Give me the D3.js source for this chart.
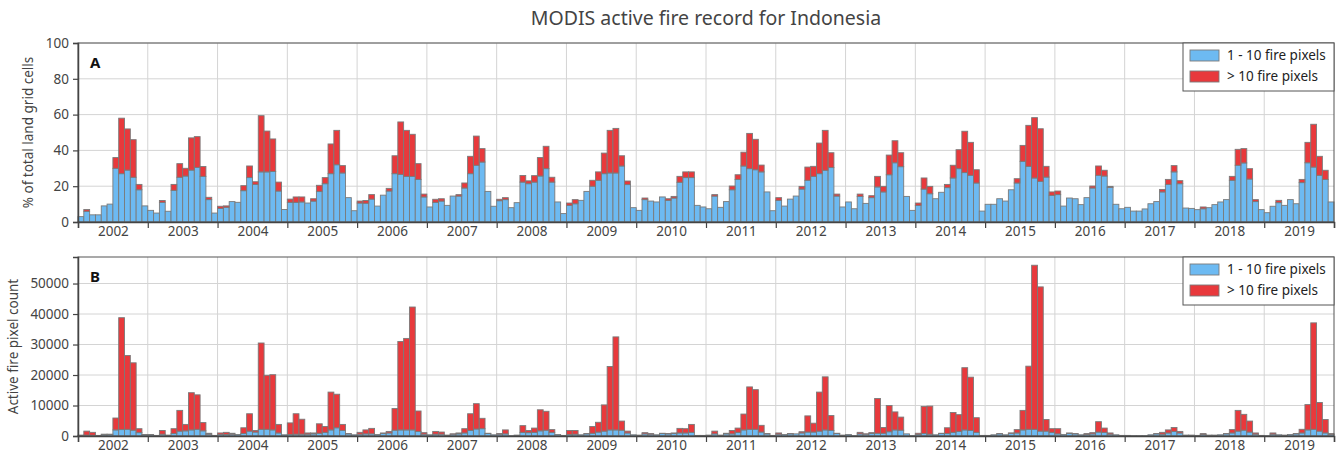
<!DOCTYPE html>
<html>
<head>
<meta charset="utf-8">
<script src="https://cdn.jsdelivr.net/npm/d3@7"></script>
<style>
  body { margin: 0; background: #fff; }
  svg { font-family: "Noto Sans", "Open Sans", sans-serif; }
</style>
</head>
<body>
<svg id="chart" width="1338" height="453"></svg>
<script>
// years shown on the x axis, one band of 12 months each
const years = d3.range(2002, 2020);
const seriesNames = ["1 - 10 fire pixels", "> 10 fire pixels"];

// panel A: % of land grid cells, 1-10 fire pixels and the total of both classes
const pctSmall = [
  3, 6, 4, 4, 9, 10, 30, 27, 29, 25, 18, 9,
  6.5, 5, 11, 6, 17.7, 25, 25.7, 29, 30.5, 25.5, 12.5, 5,
  7.6, 8.2, 11.4, 11, 17.5, 24.8, 21, 28, 28, 28.2, 17.3, 7,
  11, 11, 11.2, 10.6, 11.7, 17, 21.4, 27, 32, 27.4, 13.6, 6.3,
  10.6, 10.5, 12.8, 8.9, 15, 17.3, 27, 26.6, 25.5, 25.5, 23.8, 14,
  8.4, 11, 11.7, 9.3, 14.5, 14.5, 19, 27, 31.7, 33.5, 17.1, 8.8,
  11.9, 12.5, 8, 10.8, 22.3, 21.4, 22.3, 25.7, 29.8, 22.3, 11.2, 4.7,
  9.3, 10.2, 12.1, 17.1, 20, 23.3, 27, 27.4, 27.4, 31.3, 20.9, 8,
  6.5, 12.5, 11.7, 11.2, 14, 12.1, 13.4, 22.2, 24.8, 24.8, 9.3, 8.4,
  7.4, 14.5, 8.2, 11.4, 18, 23.8, 31.3, 29.8, 29.2, 28, 16.8, 6.3,
  12.1, 8.9, 12.8, 14.5, 18.4, 23.3, 25.5, 27, 28.9, 30.4, 14.5, 8.4,
  11.2, 7.4, 14.3, 10.4, 13.6, 19.6, 16.8, 26.4, 33.1, 30.9, 14.3, 6.5,
  9.3, 18.4, 15.8, 13, 16.6, 19.2, 24.6, 29.8, 27.6, 26.1, 21.8, 6.1,
  9.9, 9.9, 13, 11.7, 18, 21.8, 33.9, 31.1, 24.6, 22.7, 25.1, 14.9,
  15.3, 8.9, 13.4, 13, 9.7, 13.6, 19, 26.1, 25.7, 19.4, 9.9, 7.4,
  8.2, 6.1, 6.1, 7.3, 10.2, 11.4, 16.8, 21, 28, 21.4, 7.8, 7.6,
  6.9, 7.4, 8, 9.7, 11.2, 12.5, 23.3, 31.7, 33, 24, 11.4, 6.9,
  5.2, 8.8, 10.8, 9.3, 12.5, 10.2, 22, 33.1, 30.7, 26.1, 23.8, 11.2
];
const pctTotal = [
  3, 7, 4, 4, 9, 10, 36, 58, 52, 46, 21, 9,
  6.5, 5, 12, 6, 21, 32.6, 30, 47, 47.7, 31, 13.8, 5,
  8.8, 9, 11.4, 11, 20.3, 31.3, 22.5, 59.4, 50.8, 46.4, 22.3, 7,
  12.8, 14, 14, 10.6, 13, 20.5, 24.8, 43.6, 51.2, 31.5, 13.6, 6.3,
  11.7, 12, 15.3, 8.9, 15, 18.8, 37, 55.9, 51.2, 49, 32.6, 15.6,
  8.4, 12.7, 13, 9.3, 14.5, 15.3, 21.8, 36.7, 48, 41, 17.1, 8.8,
  12.7, 13.6, 8, 10.8, 26, 23, 25.9, 36, 42.3, 25, 11.2, 4.7,
  10.6, 12.5, 12.1, 17.1, 23.3, 28, 38.5, 51.2, 52.3, 37, 22.9, 8,
  6.5, 13.4, 11.7, 11.2, 14, 13, 14.3, 25.5, 28, 28, 9.3, 8.4,
  7.4, 15.3, 8.2, 11.4, 20.1, 26.4, 39, 49.5, 46.2, 31.8, 16.8, 6.3,
  13.6, 8.9, 12.8, 14.5, 19.9, 30.7, 31.1, 44.1, 51.2, 38.7, 15.6, 8.4,
  11.2, 7.4, 15.6, 10.4, 14.7, 25.5, 19.9, 37.4, 45.4, 38.7, 14.3, 6.5,
  10.6, 24.6, 19.9, 13, 16.6, 21, 31.7, 40.4, 50.7, 44.5, 29.2, 6.1,
  9.9, 9.9, 13, 11.7, 18, 24.2, 42.8, 54, 58.3, 52.1, 31.1, 16.8,
  17.3, 8.9, 13.4, 13, 9.7, 13.6, 20.1, 31.3, 28.9, 19.9, 9.9, 7.4,
  8.2, 6.1, 6.1, 7.3, 10.2, 11.4, 18.2, 23.8, 31.5, 23.1, 7.8, 7.6,
  6.9, 8.4, 8, 9.7, 11.2, 12.5, 25.5, 40.6, 41, 29.8, 12.5, 6.9,
  5.2, 8.8, 12.1, 9.3, 12.5, 10.2, 23.8, 44.5, 54.6, 36.7, 28.9, 11.2
];

// panel B: active fire pixel counts
const countSmall = [
  150, 300, 250, 150, 400, 450, 2000, 2100, 2200, 1900, 1100, 400,
  400, 200, 600, 300, 800, 1600, 1700, 2000, 2200, 1700, 600, 200,
  500, 500, 600, 500, 800, 1600, 1300, 2200, 2200, 2000, 1000, 400,
  500, 600, 600, 600, 700, 900, 1200, 2000, 2700, 1800, 700, 400,
  600, 700, 700, 500, 800, 1000, 1900, 2000, 2000, 2000, 1500, 600,
  400, 600, 600, 300, 600, 700, 1000, 1800, 2300, 2400, 800, 400,
  600, 700, 100, 300, 1200, 1100, 1200, 1700, 1900, 1200, 500, 200,
  500, 600, 400, 700, 900, 1300, 1600, 2000, 2000, 1900, 1000, 400,
  300, 700, 600, 400, 800, 700, 800, 1000, 1000, 1200, 200, 200,
  300, 700, 300, 700, 700, 1200, 2000, 2200, 2200, 1300, 700, 200,
  600, 500, 700, 700, 1000, 1300, 1300, 1600, 2000, 1800, 800, 300,
  500, 100, 700, 600, 800, 900, 900, 1400, 2000, 1900, 700, 100,
  500, 800, 600, 400, 800, 800, 1200, 1500, 2000, 1800, 1200, 200,
  200, 400, 700, 400, 900, 1000, 2000, 2200, 2200, 1600, 1600, 1200,
  700, 500, 800, 700, 400, 500, 700, 1300, 1200, 600, 400, 200,
  200, 100, 100, 100, 400, 700, 600, 1000, 1500, 1000, 300, 300,
  200, 500, 300, 300, 400, 700, 1000, 1600, 1900, 1300, 600, 200,
  100, 600, 400, 300, 500, 700, 1000, 2000, 2200, 1600, 1000, 500
];
const countTotal = [
  300, 1600, 1200, 200, 600, 600, 5900, 38800, 26400, 24000, 2400, 500,
  500, 200, 1800, 300, 2400, 8400, 3800, 14200, 13500, 4400, 900, 200,
  1000, 1200, 900, 500, 2700, 7300, 1800, 30500, 19900, 20100, 3800, 400,
  4300, 7300, 5500, 1000, 1000, 4000, 3100, 14400, 13700, 3800, 800, 400,
  1200, 2000, 2500, 500, 1000, 1500, 9000, 31000, 32000, 42300, 8200, 1100,
  400, 1500, 1300, 300, 700, 1000, 2400, 7300, 10600, 5800, 900, 400,
  800, 2000, 100, 300, 3400, 1800, 2600, 8600, 8100, 2100, 500, 200,
  1800, 1800, 400, 800, 3100, 4500, 10200, 22800, 32500, 4900, 1600, 400,
  300, 1100, 800, 400, 900, 800, 1000, 2500, 2400, 3800, 200, 200,
  300, 1600, 300, 900, 1800, 2600, 7200, 16100, 15200, 3500, 800, 200,
  1000, 500, 800, 700, 1400, 6600, 4200, 14400, 19400, 6700, 900, 300,
  500, 100, 1200, 700, 1100, 12300, 2800, 10000, 7900, 6200, 700, 100,
  900, 9700, 9800, 400, 900, 2700, 7700, 7000, 22400, 19300, 6000, 200,
  200, 400, 800, 400, 1000, 2100, 8400, 22900, 56000, 48900, 5400, 2400,
  2400, 500, 1000, 800, 400, 800, 1100, 4700, 2600, 1000, 400, 200,
  200, 100, 100, 100, 400, 800, 1200, 2000, 2800, 1500, 300, 300,
  200, 800, 300, 300, 400, 800, 2100, 8400, 7100, 4900, 1000, 200,
  100, 1000, 400, 300, 500, 800, 2200, 10300, 37100, 11000, 5400, 800
];

const yTicksA = [0, 20, 40, 60, 80, 100];
const yTicksB = [0, 10000, 20000, 30000, 40000, 50000];

const colors = ["#6dbaf2", "#e8393c"];
const textColor = "#444";

const svg = d3.select("#chart");
const left = 78, right = 1334;
const months = d3.range(years.length * 12);

const x = d3.scaleBand().domain(months).range([left, right]).padding(0);
const xYear = d3.scaleLinear().domain([years[0], years[years.length - 1] + 1]).range([left, right]);

svg.append("text")
  .attr("x", 706).attr("y", 25)
  .attr("text-anchor", "middle")
  .style("font-size", "19.5px")
  .style("fill", textColor)
  .text("MODIS active fire record for Indonesia");

function panel(top, bottom, small, total, yMax, yTicks, yTitle, titleX, letter) {
  const y = d3.scaleLinear().domain([0, yMax]).range([bottom, top]);
  const g = svg.append("g");

  // grid
  g.append("g").selectAll("line.v")
    .data(years.slice(1))
    .join("line")
    .attr("x1", d => xYear(d)).attr("x2", d => xYear(d))
    .attr("y1", top).attr("y2", bottom)
    .attr("stroke", "#d4d4d4").attr("stroke-width", 1);
  g.append("g").selectAll("line.h")
    .data(yTicks.slice(1))
    .join("line")
    .attr("x1", left).attr("x2", right)
    .attr("y1", d => y(d)).attr("y2", d => y(d))
    .attr("stroke", "#d4d4d4").attr("stroke-width", 1);

  // stacked bars
  const rows = months.map(i => ({ month: i, small: small[i], large: Math.max(0, total[i] - small[i]) }));
  const stacked = d3.stack().keys(["small", "large"])(rows);
  g.append("g").selectAll("g")
    .data(stacked)
    .join("g")
    .attr("fill", (d, i) => colors[i])
    .selectAll("rect")
    .data(d => d.filter(p => p[1] - p[0] > 0))
    .join("rect")
    .attr("x", d => x(d.data.month))
    .attr("width", x.bandwidth())
    .attr("y", d => y(d[1]))
    .attr("height", d => y(d[0]) - y(d[1]))
    .attr("stroke", "#7a7a7a")
    .attr("stroke-width", 0.9);

  // frame
  g.append("rect")
    .attr("x", left).attr("y", top)
    .attr("width", right - left).attr("height", bottom - top)
    .attr("fill", "none").attr("stroke", "#555").attr("stroke-width", 1);

  // axes
  const yAxis = g.append("g")
    .attr("transform", `translate(${left},0)`)
    .call(d3.axisLeft(y).tickValues(yTicks).tickSize(5).tickPadding(4).tickFormat(d3.format("d")));
  const xAxis = g.append("g")
    .attr("transform", `translate(0,${bottom})`)
    .call(d3.axisBottom(xYear).tickValues(years.concat([years[years.length - 1] + 1])).tickSize(6).tickFormat(""));
  const xLabels = g.append("g")
    .attr("transform", `translate(0,${bottom})`)
    .call(d3.axisBottom(xYear).tickValues(years.map(v => v + 0.5)).tickSize(0).tickPadding(4).tickFormat(d => Math.floor(d)));
  xLabels.select(".domain").remove();
  [yAxis, xAxis, xLabels].forEach(a => {
    a.selectAll(".domain").attr("stroke", "#444").attr("stroke-width", 1.5);
    a.selectAll(".tick line").attr("stroke", "#444").attr("stroke-width", 1.2);
    a.selectAll("text").style("font-size", "13.5px").style("fill", textColor)
      .style("font-family", "'Noto Sans', 'Open Sans', sans-serif");
  });

  svg.append("text")
    .attr("transform", `translate(${titleX},${(top + bottom) / 2}) rotate(-90)`)
    .attr("text-anchor", "middle")
    .style("font-size", "13.5px")
    .style("fill", textColor)
    .text(yTitle);

  svg.append("text")
    .attr("x", left + 12).attr("y", top + 25)
    .style("font-size", "15px").style("font-weight", "bold").style("fill", "#111")
    .text(letter);

  // legend
  const lg = svg.append("g").attr("transform", `translate(${right - 151},${top})`);
  lg.append("rect").attr("width", 151).attr("height", 48)
    .attr("fill", "#fff").attr("stroke", "#555").attr("stroke-width", 1);
  seriesNames.forEach((name, i) => {
    lg.append("rect")
      .attr("x", 7).attr("y", 7 + i * 21).attr("width", 29).attr("height", 11)
      .attr("fill", colors[i]).attr("stroke", "#7a7a7a").attr("stroke-width", 0.9);
    lg.append("text")
      .attr("x", 44).attr("y", 17 + i * 21)
      .style("font-size", "13.5px").style("fill", "#222")
      .text(name);
  });
}

panel(43, 222, pctSmall, pctTotal, 100, yTicksA, "% of total land grid cells", 33, "A");
panel(257, 436, countSmall, countTotal, 58700, yTicksB, "Active fire pixel count", 18, "B");
</script>
</body>
</html>
